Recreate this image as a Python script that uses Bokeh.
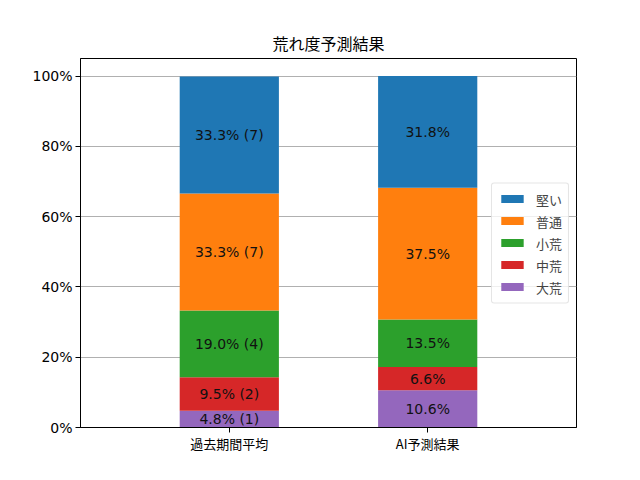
from bokeh.plotting import figure
from bokeh.models import (Range1d, FactorRange, FixedTicker, PrintfTickFormatter,
                          Legend, LegendItem, ColumnDataSource)
from bokeh.core.properties import value
from bokeh.embed import file_html
from bokeh.resources import INLINE

categories = ["過去期間平均", "AI予測結果"]
levels = ["大荒", "中荒", "小荒", "普通", "堅い"]          # bottom -> top
colors = ["#9467bd", "#d62728", "#2ca02c", "#ff7f0e", "#1f77b4"]
past_pct = [4.8, 9.5, 19.0, 33.3, 33.3]
past_cnt = [1, 2, 4, 7, 7]
ai_pct = [10.6, 6.6, 13.5, 37.5, 31.8]
yticks = [0, 20, 40, 60, 80, 100]

FONT = "DejaVu Sans, Noto Sans CJK JP"
CJK = "Noto Sans CJK JP"

p = figure(width=624, height=464, output_backend="svg", toolbar_location=None,
           x_range=FactorRange(*categories, range_padding=0.25, range_padding_units="percent"),
           y_range=Range1d(0, 105),
           min_border_left=80, min_border_right=48, min_border_top=58, min_border_bottom=37)

p.title.text = "荒れ度予測結果"
p.title.align = "center"
p.title.text_font = CJK
p.title.text_font_size = "16px"
p.title.text_font_style = "normal"
p.title.text_color = "black"
p.title.standoff = 8

data = {"cat": categories}
for i, lv in enumerate(levels):
    data[lv] = [past_pct[i], ai_pct[i]]
src = ColumnDataSource(data)

renderers = p.vbar_stack(levels, x="cat", width=0.5, source=src, color=colors,
                         line_color=None)

# segment labels
xs, ys, txt = [], [], []
for series, counts, cat in [(past_pct, past_cnt, categories[0]), (ai_pct, None, categories[1])]:
    base = 0.0
    for i, v in enumerate(series):
        xs.append(cat)
        ys.append(base + v / 2)
        txt.append(f"{v:.1f}% ({counts[i]})" if counts else f"{v:.1f}%")
        base += v
p.text(x=xs, y=ys, text=txt, text_align="center", text_baseline="middle",
       text_font=value(FONT), text_font_size="14px", text_color="#111111")

items = [LegendItem(label=levels[i], renderers=[renderers[i]]) for i in reversed(range(len(levels)))]
legend = Legend(items=items, location="center_right", margin=7, padding=6, spacing=3,
                glyph_width=28, glyph_height=10, label_height=15, label_standoff=10,
                label_text_font=CJK, label_text_font_size="13px",
                border_line_color="#cccccc", border_line_width=1, border_radius=3,
                background_fill_alpha=0.8)
p.add_layout(legend, "center")

p.yaxis.ticker = FixedTicker(ticks=yticks)
p.yaxis.formatter = PrintfTickFormatter(format="%d%%")
for ax in (p.xaxis, p.yaxis):
    ax.major_label_text_font = FONT
    ax.major_label_text_font_size = "14px"
    ax.major_label_text_color = "black"
    ax.major_tick_in = 0
    ax.major_tick_out = 5
    ax.minor_tick_line_color = None
    ax.axis_line_color = "black"
    ax.major_tick_line_color = "black"
    ax.major_label_standoff = 3

p.xaxis.major_label_text_font = CJK
p.xaxis.major_label_text_font_size = "13px"
p.xaxis.major_label_standoff = 1

p.xgrid.grid_line_color = None
p.ygrid.grid_line_color = "#b0b0b0"
p.ygrid.grid_line_width = 1
p.outline_line_color = "black"
p.outline_line_alpha = 1
p.outline_line_width = 1
p.background_fill_color = "white"

open("out.html", "w").write(file_html(p, INLINE))
